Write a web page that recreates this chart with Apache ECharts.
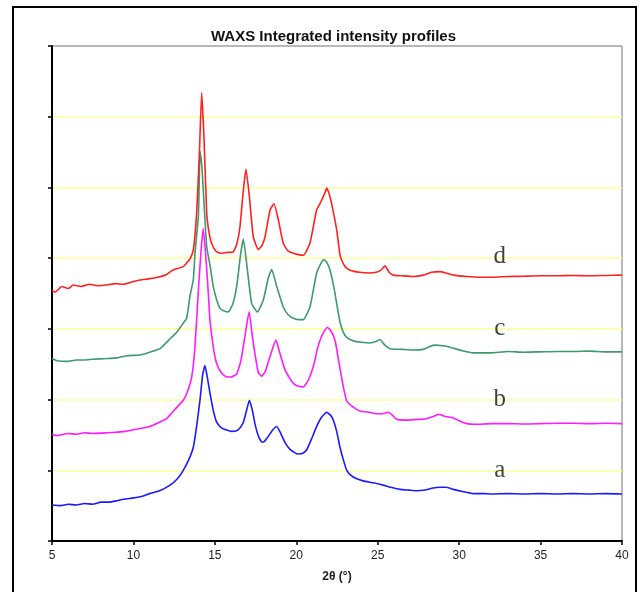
<!DOCTYPE html>
<html>
<head>
<meta charset="utf-8">
<script src="https://cdn.jsdelivr.net/npm/echarts@6/dist/echarts.min.js"></script>
<style>
  html, body { margin: 0; padding: 0; background: #fff; }
  #chart { width: 639px; height: 592px; }
</style>
</head>
<body>
<div id="chart"></div>
<script>
// x ticks (2θ, degrees)
const xTicks = [5, 10, 15, 20, 25, 30, 35, 40];
const curveNames = ['a', 'b', 'c', 'd'];
const curveColors = ['#1a1aff', '#ff1aff', '#3d9a6a', '#ff2020'];

// intensity profiles, offset vertically (arbitrary units)
const profileA = [[5.0,0.51],[5.5,0.50],[6.0,0.52],[6.5,0.51],[7.0,0.53],[7.5,0.52],[8.0,0.55],[8.5,0.55],[9.0,0.57],[9.4,0.59],[10.0,0.61],[10.5,0.63],[11.0,0.67],[11.6,0.71],[12.25,0.79],[12.7,0.88],[13.06,1.0],[13.4,1.15],[13.68,1.33],[13.88,1.62],[14.09,2.0],[14.25,2.35],[14.39,2.48],[14.55,2.3],[14.7,2.09],[14.9,1.85],[15.11,1.68],[15.4,1.6],[15.72,1.57],[16.0,1.55],[16.34,1.56],[16.55,1.6],[16.75,1.68],[16.95,1.85],[17.12,1.99],[17.3,1.85],[17.46,1.66],[17.65,1.5],[17.88,1.4],[18.05,1.41],[18.28,1.48],[18.55,1.57],[18.8,1.62],[19.05,1.52],[19.31,1.39],[19.6,1.3],[19.9,1.25],[20.12,1.23],[20.4,1.24],[20.64,1.29],[20.95,1.45],[21.25,1.62],[21.55,1.75],[21.87,1.82],[22.1,1.78],[22.27,1.71],[22.48,1.55],[22.68,1.33],[22.9,1.14],[23.1,1.0],[23.4,0.92],[23.71,0.88],[24.1,0.85],[24.53,0.83],[25.0,0.81],[25.34,0.79],[25.8,0.76],[26.37,0.73],[26.9,0.72],[27.39,0.71],[27.9,0.72],[28.4,0.75],[28.82,0.76],[29.2,0.76],[29.64,0.73],[30.2,0.70],[30.87,0.67],[31.5,0.67],[32,0.665],[33,0.67],[34,0.665],[35,0.67],[36,0.665],[37,0.67],[38,0.665],[39,0.67],[40,0.665]];

const profileB = [[5.0,1.51],[5.3,1.49],[6.0,1.52],[6.5,1.51],[7.0,1.53],[7.5,1.52],[8.36,1.53],[9.0,1.54],[9.5,1.55],[10.4,1.59],[11.0,1.62],[11.5,1.67],[12.04,1.73],[12.5,1.85],[13.06,1.99],[13.3,2.1],[13.58,2.32],[13.78,2.75],[13.99,3.55],[14.15,4.1],[14.29,4.42],[14.45,4.0],[14.6,3.5],[14.7,3.12],[14.9,2.75],[15.11,2.51],[15.4,2.38],[15.72,2.32],[16.0,2.32],[16.34,2.36],[16.6,2.55],[16.85,2.9],[17.1,3.24],[17.3,2.9],[17.46,2.65],[17.67,2.38],[17.88,2.33],[18.1,2.4],[18.39,2.61],[18.75,2.84],[19.0,2.65],[19.31,2.42],[19.6,2.3],[19.82,2.23],[20.12,2.19],[20.43,2.18],[20.75,2.28],[21.05,2.47],[21.3,2.72],[21.46,2.84],[21.7,2.96],[21.9,3.02],[22.1,2.98],[22.38,2.84],[22.6,2.55],[22.89,2.18],[23.1,1.98],[23.3,1.93],[23.9,1.84],[24.5,1.82],[24.93,1.80],[25.3,1.80],[25.65,1.82],[25.9,1.78],[26.16,1.72],[26.8,1.71],[27.5,1.72],[28.0,1.73],[28.4,1.76],[28.72,1.79],[29.2,1.76],[29.64,1.74],[30.1,1.69],[30.46,1.66],[31,1.65],[32,1.66],[33,1.66],[34,1.655],[35,1.66],[36,1.665],[37,1.665],[38,1.66],[39,1.665],[40,1.66]];

const profileC = [[5.0,2.58],[5.3,2.55],[5.9,2.54],[6.5,2.56],[7.0,2.56],[7.5,2.57],[8.36,2.58],[9.0,2.59],[9.6,2.62],[10.4,2.63],[11.0,2.67],[11.63,2.72],[12.25,2.86],[12.65,2.95],[13.06,3.08],[13.27,3.15],[13.47,3.46],[13.68,3.7],[13.78,4.07],[13.99,4.6],[14.09,5.51],[14.2,5.3],[14.29,4.96],[14.5,4.16],[14.7,3.9],[14.9,3.6],[15.1,3.42],[15.32,3.29],[15.6,3.25],[15.83,3.24],[16.1,3.35],[16.34,3.6],[16.59,4.07],[16.75,4.27],[17.0,3.83],[17.26,3.36],[17.61,3.24],[17.98,3.41],[18.28,3.72],[18.49,3.84],[18.8,3.6],[19.2,3.31],[19.5,3.2],[19.82,3.15],[20.12,3.13],[20.43,3.13],[20.84,3.31],[21.05,3.55],[21.25,3.79],[21.5,3.92],[21.7,3.98],[21.9,3.93],[22.07,3.83],[22.3,3.6],[22.48,3.36],[22.68,3.1],[22.89,2.95],[23.1,2.88],[23.5,2.83],[24.0,2.81],[24.53,2.8],[24.9,2.82],[25.14,2.85],[25.4,2.78],[25.75,2.72],[26.5,2.71],[27.2,2.70],[27.8,2.71],[28.2,2.75],[28.5,2.77],[29.0,2.76],[29.44,2.74],[30.2,2.69],[30.87,2.66],[31.9,2.66],[33,2.68],[34,2.67],[35,2.675],[36,2.68],[37,2.68],[38,2.685],[39,2.675],[40,2.675]];

const profileD = [[5.0,3.54],[5.2,3.52],[5.6,3.6],[6.0,3.57],[6.3,3.62],[6.8,3.6],[7.3,3.63],[7.8,3.61],[8.36,3.62],[8.9,3.64],[9.4,3.63],[10.0,3.67],[10.4,3.69],[11.0,3.71],[11.5,3.73],[12.04,3.77],[12.4,3.83],[13.06,3.88],[13.27,3.93],[13.5,4.0],[13.68,4.12],[13.88,4.63],[14.05,5.48],[14.19,6.34],[14.33,5.72],[14.5,4.63],[14.65,4.35],[14.8,4.21],[15.05,4.1],[15.32,4.07],[15.7,4.08],[16.13,4.09],[16.35,4.2],[16.54,4.44],[16.75,4.96],[16.91,5.26],[17.12,4.87],[17.36,4.3],[17.67,4.12],[17.9,4.18],[18.08,4.3],[18.39,4.68],[18.63,4.77],[18.9,4.54],[19.2,4.21],[19.5,4.1],[19.82,4.07],[20.12,4.05],[20.43,4.04],[20.84,4.21],[21.05,4.45],[21.25,4.68],[21.56,4.82],[21.75,4.92],[21.87,4.99],[22.0,4.92],[22.17,4.77],[22.48,4.4],[22.68,4.05],[22.79,3.97],[23.0,3.88],[23.3,3.83],[23.9,3.8],[24.53,3.79],[24.9,3.8],[25.2,3.83],[25.45,3.89],[25.7,3.8],[25.96,3.76],[26.5,3.75],[27.19,3.74],[27.8,3.76],[28.3,3.8],[28.82,3.81],[29.2,3.79],[29.64,3.76],[30.46,3.74],[31.3,3.73],[32,3.73],[33,3.74],[34,3.745],[35,3.75],[36,3.75],[37,3.755],[38,3.75],[39,3.755],[40,3.76]];

// where the letters a-d sit
const labelX = [32.5, 32.5, 32.5, 32.5];
const labelY = [1.0, 2.0, 3.0, 4.03];

const profiles = [profileA, profileB, profileC, profileD];

const chart = echarts.init(document.getElementById('chart'));

const series = profiles.map((data, i) => ({
  name: curveNames[i],
  type: 'line',
  data: data,
  symbol: 'none',
  smooth: 0.15,
  lineStyle: { color: curveColors[i], width: 1.6 },
  z: 3 + i
}));

series.push({
  type: 'scatter',
  symbolSize: 0,
  silent: true,
  data: curveNames.map((n, i) => [labelX[i], labelY[i], n]),
  label: {
    show: true,
    position: 'inside',
    formatter: p => p.data[2],
    fontFamily: 'Liberation Serif',
    fontSize: 25,
    color: '#111'
  }
});

// splitLine colours: index 0..7, top one acts as the plot border
const splitColors = ['#ffff99', '#ffff99', '#ffff99', '#ffff99', '#ffff99', '#ffff99', '#ffff99', '#a0a0a0'];

const option = {
  animation: false,
  title: {
    text: 'WAXS Integrated intensity profiles',
    left: 206,
    top: 24,
    textStyle: {
      fontFamily: 'Liberation Sans',
      fontSize: 15,
      fontWeight: 'bold',
      color: '#111'
    }
  },
  grid: { left: 52, right: 17, top: 46, bottom: 51 },
  xAxis: {
    type: 'value',
    min: 5,
    max: 40,
    interval: 5,
    name: '2θ (°)',
    nameLocation: 'middle',
    nameGap: 30,
    nameTextStyle: { fontFamily: 'Liberation Sans', fontSize: 12, fontWeight: 'bold', color: '#222' },
    axisLine: { lineStyle: { color: '#000', width: 2 } },
    axisTick: { show: true, length: 4, lineStyle: { color: '#000', width: 1.5 } },
    axisLabel: {
      margin: 9,
      fontFamily: 'Liberation Sans',
      fontSize: 12,
      color: '#222',
      formatter: v => (xTicks.includes(v) ? String(v) : '')
    },
    splitLine: { show: false }
  },
  yAxis: {
    type: 'value',
    min: 0,
    max: 7,
    interval: 1,
    axisLine: { show: true, lineStyle: { color: '#000', width: 2 } },
    axisTick: { show: true, length: 4, lineStyle: { color: '#000', width: 1.5 } },
    axisLabel: { show: false },
    splitLine: { show: true, lineStyle: { color: splitColors, width: 1.5 } }
  },
  graphic: [
    {
      type: 'rect',
      shape: { x: 13, y: 7, width: 623, height: 600 },
      style: { fill: 'none', stroke: '#000', lineWidth: 2 },
      z: 0,
      silent: true
    },
    {
      type: 'line',
      shape: { x1: 622, y1: 46, x2: 622, y2: 541 },
      style: { stroke: '#a0a0a0', lineWidth: 1.5 },
      silent: true
    }
  ],
  series: series
};

chart.setOption(option);
</script>
</body>
</html>
